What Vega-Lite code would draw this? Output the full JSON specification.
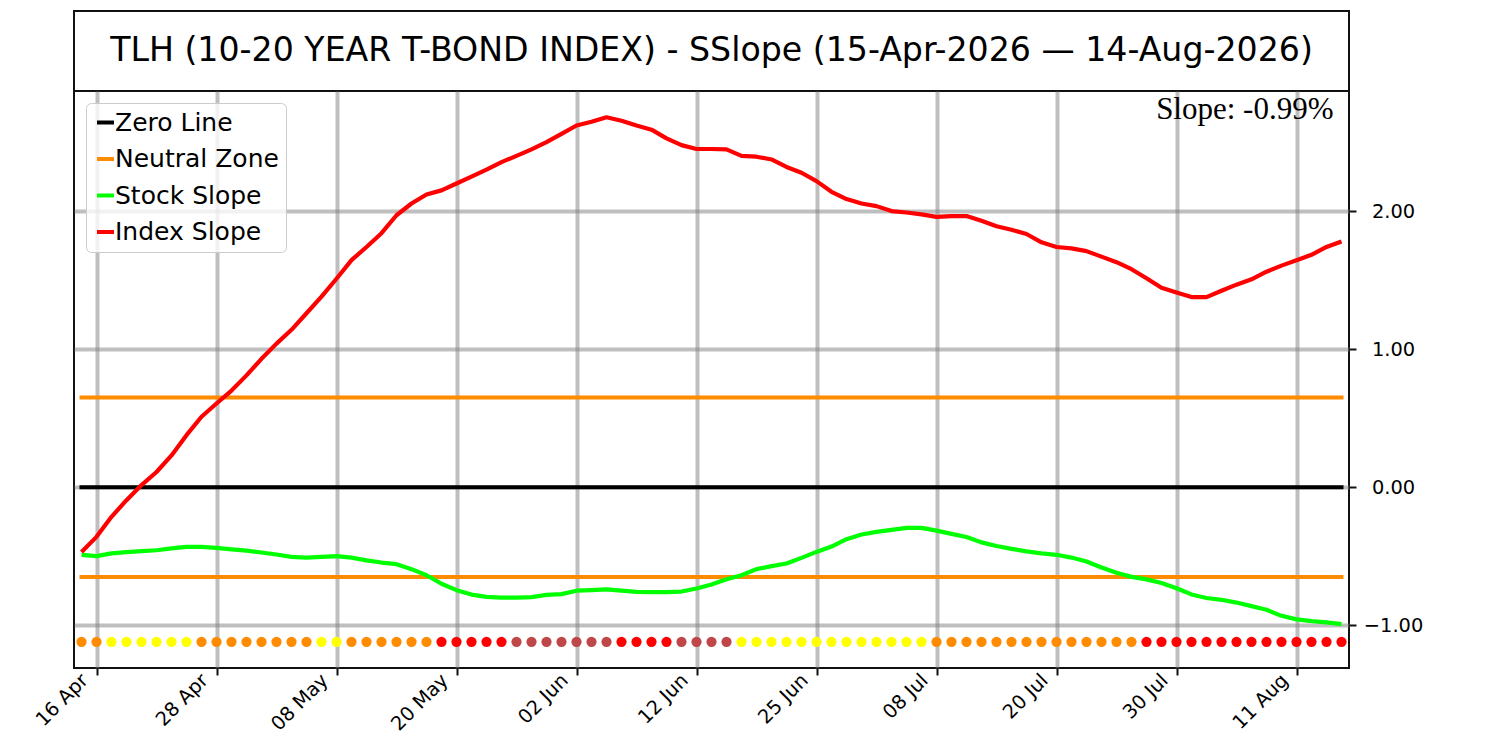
{
  "$schema": "https://vega.github.io/schema/vega-lite/v6.json",
  "background": "white",
  "padding": {"left": 30, "top": 10, "right": 5, "bottom": 0},
  "bounds": "flush",
  "spacing": 0,
  "config": {
    "font": "DejaVu Sans",
    "view": {"stroke": "#111111", "strokeWidth": 2}
  },
  "resolve": {
    "scale": {"color": "independent", "fill": "independent"},
    "legend": {"color": "independent", "fill": "independent"}
  },
  "datasets": {
    "slopes": [
      {"d": "2026-04-15", "index": -0.47, "stock": -0.49, "sig": "neutral"},
      {"d": "2026-04-16", "index": -0.36, "stock": -0.50, "sig": "neutral"},
      {"d": "2026-04-17", "index": -0.215, "stock": -0.48, "sig": "bull"},
      {"d": "2026-04-20", "index": -0.094, "stock": -0.47, "sig": "bull"},
      {"d": "2026-04-21", "index": 0.015, "stock": -0.464, "sig": "bull"},
      {"d": "2026-04-22", "index": 0.11, "stock": -0.457, "sig": "bull"},
      {"d": "2026-04-23", "index": 0.23, "stock": -0.444, "sig": "bull"},
      {"d": "2026-04-24", "index": 0.377, "stock": -0.432, "sig": "bull"},
      {"d": "2026-04-27", "index": 0.51, "stock": -0.432, "sig": "neutral"},
      {"d": "2026-04-28", "index": 0.606, "stock": -0.44, "sig": "neutral"},
      {"d": "2026-04-29", "index": 0.70, "stock": -0.45, "sig": "neutral"},
      {"d": "2026-04-30", "index": 0.81, "stock": -0.46, "sig": "neutral"},
      {"d": "2026-05-01", "index": 0.93, "stock": -0.473, "sig": "neutral"},
      {"d": "2026-05-04", "index": 1.04, "stock": -0.488, "sig": "neutral"},
      {"d": "2026-05-05", "index": 1.14, "stock": -0.505, "sig": "neutral"},
      {"d": "2026-05-06", "index": 1.26, "stock": -0.51, "sig": "neutral"},
      {"d": "2026-05-07", "index": 1.38, "stock": -0.505, "sig": "bull"},
      {"d": "2026-05-08", "index": 1.51, "stock": -0.50, "sig": "bull"},
      {"d": "2026-05-11", "index": 1.645, "stock": -0.51, "sig": "neutral"},
      {"d": "2026-05-12", "index": 1.74, "stock": -0.53, "sig": "neutral"},
      {"d": "2026-05-13", "index": 1.84, "stock": -0.546, "sig": "neutral"},
      {"d": "2026-05-14", "index": 1.97, "stock": -0.558, "sig": "neutral"},
      {"d": "2026-05-15", "index": 2.055, "stock": -0.594, "sig": "neutral"},
      {"d": "2026-05-18", "index": 2.12, "stock": -0.638, "sig": "neutral"},
      {"d": "2026-05-19", "index": 2.15, "stock": -0.70, "sig": "bear"},
      {"d": "2026-05-20", "index": 2.20, "stock": -0.746, "sig": "bear"},
      {"d": "2026-05-21", "index": 2.25, "stock": -0.778, "sig": "bear"},
      {"d": "2026-05-22", "index": 2.30, "stock": -0.795, "sig": "bear"},
      {"d": "2026-05-26", "index": 2.355, "stock": -0.80, "sig": "bear"},
      {"d": "2026-05-27", "index": 2.40, "stock": -0.80, "sig": "weak"},
      {"d": "2026-05-28", "index": 2.447, "stock": -0.797, "sig": "weak"},
      {"d": "2026-05-29", "index": 2.50, "stock": -0.78, "sig": "weak"},
      {"d": "2026-06-01", "index": 2.56, "stock": -0.775, "sig": "weak"},
      {"d": "2026-06-02", "index": 2.62, "stock": -0.75, "sig": "weak"},
      {"d": "2026-06-03", "index": 2.647, "stock": -0.746, "sig": "weak"},
      {"d": "2026-06-04", "index": 2.68, "stock": -0.74, "sig": "weak"},
      {"d": "2026-06-05", "index": 2.655, "stock": -0.749, "sig": "bear"},
      {"d": "2026-06-08", "index": 2.62, "stock": -0.758, "sig": "bear"},
      {"d": "2026-06-09", "index": 2.59, "stock": -0.76, "sig": "bear"},
      {"d": "2026-06-10", "index": 2.527, "stock": -0.76, "sig": "bear"},
      {"d": "2026-06-11", "index": 2.478, "stock": -0.756, "sig": "weak"},
      {"d": "2026-06-12", "index": 2.45, "stock": -0.734, "sig": "weak"},
      {"d": "2026-06-15", "index": 2.45, "stock": -0.705, "sig": "weak"},
      {"d": "2026-06-16", "index": 2.447, "stock": -0.667, "sig": "weak"},
      {"d": "2026-06-17", "index": 2.40, "stock": -0.638, "sig": "bull"},
      {"d": "2026-06-18", "index": 2.394, "stock": -0.594, "sig": "bull"},
      {"d": "2026-06-22", "index": 2.374, "stock": -0.572, "sig": "bull"},
      {"d": "2026-06-23", "index": 2.32, "stock": -0.553, "sig": "bull"},
      {"d": "2026-06-24", "index": 2.278, "stock": -0.512, "sig": "bull"},
      {"d": "2026-06-25", "index": 2.217, "stock": -0.469, "sig": "bull"},
      {"d": "2026-06-26", "index": 2.14, "stock": -0.43, "sig": "bull"},
      {"d": "2026-06-29", "index": 2.087, "stock": -0.377, "sig": "bull"},
      {"d": "2026-06-30", "index": 2.055, "stock": -0.343, "sig": "bull"},
      {"d": "2026-07-01", "index": 2.036, "stock": -0.324, "sig": "bull"},
      {"d": "2026-07-02", "index": 2.00, "stock": -0.309, "sig": "bull"},
      {"d": "2026-07-06", "index": 1.99, "stock": -0.295, "sig": "bull"},
      {"d": "2026-07-07", "index": 1.976, "stock": -0.295, "sig": "bull"},
      {"d": "2026-07-08", "index": 1.958, "stock": -0.315, "sig": "neutral"},
      {"d": "2026-07-09", "index": 1.964, "stock": -0.338, "sig": "neutral"},
      {"d": "2026-07-10", "index": 1.964, "stock": -0.361, "sig": "neutral"},
      {"d": "2026-07-13", "index": 1.93, "stock": -0.40, "sig": "neutral"},
      {"d": "2026-07-14", "index": 1.89, "stock": -0.426, "sig": "neutral"},
      {"d": "2026-07-15", "index": 1.865, "stock": -0.447, "sig": "neutral"},
      {"d": "2026-07-16", "index": 1.834, "stock": -0.465, "sig": "neutral"},
      {"d": "2026-07-17", "index": 1.774, "stock": -0.48, "sig": "neutral"},
      {"d": "2026-07-20", "index": 1.74, "stock": -0.49, "sig": "neutral"},
      {"d": "2026-07-21", "index": 1.73, "stock": -0.51, "sig": "neutral"},
      {"d": "2026-07-22", "index": 1.71, "stock": -0.538, "sig": "neutral"},
      {"d": "2026-07-23", "index": 1.67, "stock": -0.582, "sig": "neutral"},
      {"d": "2026-07-24", "index": 1.63, "stock": -0.62, "sig": "neutral"},
      {"d": "2026-07-27", "index": 1.579, "stock": -0.65, "sig": "neutral"},
      {"d": "2026-07-28", "index": 1.514, "stock": -0.668, "sig": "bear"},
      {"d": "2026-07-29", "index": 1.444, "stock": -0.694, "sig": "bear"},
      {"d": "2026-07-30", "index": 1.41, "stock": -0.732, "sig": "bear"},
      {"d": "2026-07-31", "index": 1.377, "stock": -0.777, "sig": "bear"},
      {"d": "2026-08-03", "index": 1.377, "stock": -0.803, "sig": "bear"},
      {"d": "2026-08-04", "index": 1.423, "stock": -0.816, "sig": "bear"},
      {"d": "2026-08-05", "index": 1.467, "stock": -0.836, "sig": "bear"},
      {"d": "2026-08-06", "index": 1.506, "stock": -0.862, "sig": "bear"},
      {"d": "2026-08-07", "index": 1.561, "stock": -0.888, "sig": "bear"},
      {"d": "2026-08-10", "index": 1.605, "stock": -0.932, "sig": "bear"},
      {"d": "2026-08-11", "index": 1.644, "stock": -0.958, "sig": "bear"},
      {"d": "2026-08-12", "index": 1.683, "stock": -0.971, "sig": "bear"},
      {"d": "2026-08-13", "index": 1.74, "stock": -0.979, "sig": "bear"},
      {"d": "2026-08-14", "index": 1.78, "stock": -0.992, "sig": "bear"}
    ],
    "levels": [
      {"series": "zero", "v": 0, "d": "2026-04-15", "d2": "2026-08-14"},
      {"series": "neutral", "v": 0.65, "d": "2026-04-15", "d2": "2026-08-14"},
      {"series": "neutral", "v": -0.65, "d": "2026-04-15", "d2": "2026-08-14"}
    ]
  },
  "vconcat": [
    {
      "width": 1275,
      "height": 80,
      "data": {"values": [{"t": "TLH (10-20 YEAR T-BOND INDEX) - SSlope (15-Apr-2026 — 14-Aug-2026)"}]},
      "layer": [
        {
          "mark": {"type": "rect", "filled": false, "stroke": "#111111", "strokeWidth": 2},
          "encoding": {}
        },
        {
          "mark": {"type": "text", "font": "DejaVu Sans", "fontSize": 33.2, "color": "black", "baseline": "middle"},
          "encoding": {"text": {"field": "t"}}
        }
      ]
    },
    {
      "width": 1275,
      "height": 577,
      "data": {"name": "slopes"},
      "layer": [
        {
          "data": {"name": "levels"},
          "mark": {"type": "rule", "strokeWidth": 4, "strokeCap": "square"},
          "encoding": {
            "x": {"field": "d", "type": "ordinal", "title": null},
            "x2": {"field": "d2"},
            "y": {"field": "v", "type": "quantitative", "title": null},
            "color": {
              "field": "series",
              "type": "nominal",
              "scale": {
                "domain": ["zero", "neutral", "stock", "index"],
                "range": ["#000000", "#ff8c00", "#00ff00", "#ff0000"]
              },
              "legend": {
                "title": null,
                "orient": "top-left",
                "offset": 12,
                "padding": 7,
                "strokeColor": "#cccccc",
                "fillColor": "rgba(255,255,255,0.8)",
                "cornerRadius": 5,
                "symbolType": "stroke",
                "symbolSize": 289,
                "symbolStrokeWidth": 4,
                "labelFont": "DejaVu Sans",
                "labelFontSize": 25,
                "labelColor": "black",
                "labelOffset": -3,
                "labelLimit": 400,
                "rowPadding": 10.5,
                "labelExpr": "datum.label == 'zero' ? 'Zero Line' : datum.label == 'neutral' ? 'Neutral Zone' : datum.label == 'stock' ? 'Stock Slope' : 'Index Slope'"
              }
            }
          }
        },
        {
          "transform": [{"fold": ["stock", "index"], "as": ["series", "v"]}],
          "mark": {"type": "line", "strokeWidth": 4.2, "strokeJoin": "round"},
          "encoding": {
            "x": {
              "field": "d",
              "type": "ordinal",
              "title": null,
              "scale": {"type": "point", "padding": 0.5},
              "axis": {
                "values": ["2026-04-16", "2026-04-28", "2026-05-08", "2026-05-20", "2026-06-02", "2026-06-12", "2026-06-25", "2026-07-08", "2026-07-20", "2026-07-30", "2026-08-11"],
                "labelExpr": "utcFormat(toDate(datum.value), '%d %b')",
                "labelAngle": -45,
                "labelAlign": "right",
                "labelBaseline": "bottom",
                "labelPadding": 9,
                "labelOffset": -5,
                "labelFontSize": 19.4,
                "labelColor": "black",
                "domain": false,
                "tickSize": 7,
                "tickWidth": 2,
                "tickColor": "#111111",
                "grid": true,
                "gridColor": "gray",
                "gridOpacity": 0.5,
                "gridWidth": 4
              }
            },
            "y": {
              "field": "v",
              "type": "quantitative",
              "title": null,
              "scale": {"domain": [-1.31, 2.87], "nice": false, "zero": false},
              "axis": {
                "orient": "right",
                "values": [-1, 0, 1, 2],
                "labelExpr": "replace(format(datum.value, '.2f'), '-', '\u2212')",
                "labelFontSize": 19.4,
                "labelColor": "black",
                "labelAlign": "center",
                "labelPadding": 37,
                "domain": false,
                "tickSize": 7,
                "tickWidth": 2,
                "tickColor": "#111111",
                "grid": true,
                "gridColor": "gray",
                "gridOpacity": 0.5,
                "gridWidth": 4
              }
            },
            "color": {"field": "series", "type": "nominal"}
          }
        },
        {
          "mark": {"type": "circle", "size": 105, "opacity": 1, "strokeWidth": 0},
          "encoding": {
            "x": {"field": "d", "type": "ordinal", "title": null},
            "y": {"datum": -1.12, "type": "quantitative"},
            "fill": {
              "field": "sig",
              "type": "nominal",
              "scale": {
                "domain": ["neutral", "bull", "bear", "weak"],
                "range": ["#ff8c00", "#ffff00", "#ff0000", "#bf4747"]
              },
              "legend": null
            }
          }
        },
        {
          "data": {"values": [{"label": "Slope: -0.99%"}]},
          "mark": {"type": "text", "align": "right", "baseline": "alphabetic", "dx": -8, "font": "Liberation Serif", "fontSize": 31, "color": "black"},
          "encoding": {
            "x": {"datum": "2026-08-14", "type": "ordinal"},
            "y": {"datum": 2.667, "type": "quantitative"},
            "text": {"field": "label"}
          }
        }
      ]
    }
  ]
}
